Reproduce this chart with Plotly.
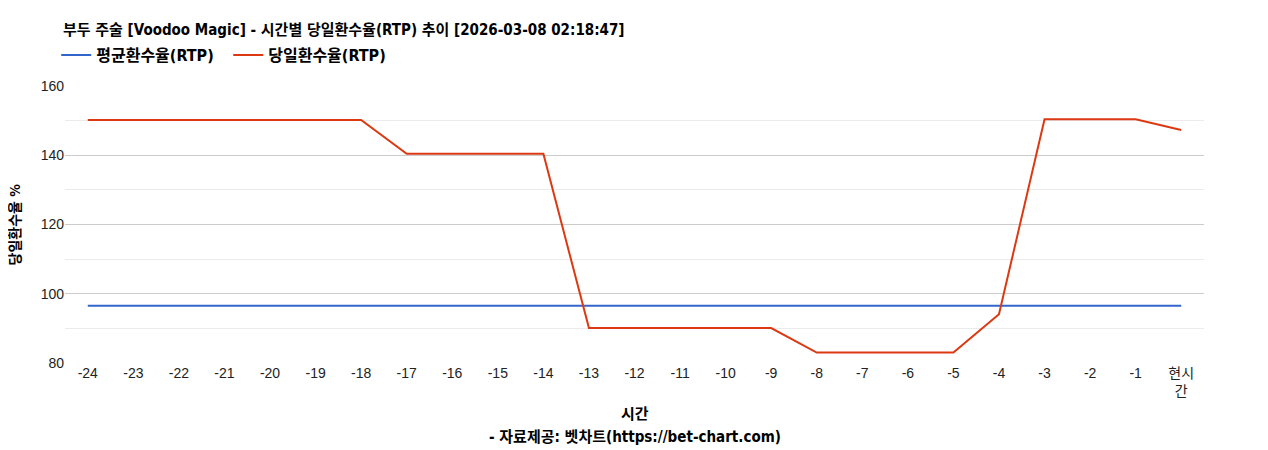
import plotly.graph_objects as go

hours = [str(h) for h in range(-24, 0)] + ["현시<br>간"]

avg_rtp = [96.5] * 25
day_rtp = [150.2, 150.2, 150.2, 150.2, 150.2, 150.2, 150.2,
           140.4, 140.4, 140.4, 140.4,
           90.1, 90.1, 90.1, 90.1, 90.1,
           83.0, 83.0, 83.0, 83.0,
           94.1,
           150.4, 150.4, 150.4,
           147.3]

tick_font = "Liberation Sans, Noto Sans CJK KR, Arial, sans-serif"
head_font = "DejaVu Sans Condensed, Noto Sans CJK KR, sans-serif"

# the page has an 8px body margin, so figure coords = screen coords - 8
W, H = 1252, 442
L, R, T, B = 57, 1196, 78, 355   # plot box in figure px

fig = go.Figure()
fig.add_trace(go.Scatter(x=hours, y=avg_rtp, mode="lines", name="<b>평균환수율(RTP)</b>",
                         line=dict(color="#3366cc", width=2)))
fig.add_trace(go.Scatter(x=hours, y=day_rtp, mode="lines", name="<b>당일환수율(RTP)</b>",
                         line=dict(color="#dc3912", width=2)))

fig.update_layout(
    width=W, height=H,
    margin=dict(l=L, r=W - R, t=T, b=H - B),
    paper_bgcolor="white", plot_bgcolor="white",
    font=dict(family=tick_font, size=14, color="#222222"),
    title=dict(text="<b>부두 주술 [Voodoo Magic] - 시간별 당일환수율(RTP) 추이 [2026-03-08 02:18:47]</b>",
               x=55 / W, xanchor="left", y=1 - 22 / H, yanchor="middle",
               font=dict(family=head_font, size=15, color="#000000")),
    showlegend=True,
    legend=dict(orientation="h", x=-0.0077, xanchor="left", y=(B - 47) / (B - T), yanchor="middle",
                font=dict(family=head_font, size=16, color="#000000"),
                itemwidth=30, entrywidth=127, entrywidthmode="pixels",
                traceorder="normal"),
    xaxis=dict(type="category", showgrid=False, showline=False, zeroline=False,
               ticks="", tickfont=dict(size=14, color="#222222"),
               range=[-0.5, 24.5]),
    yaxis=dict(range=[80, 160], dtick=20, tick0=80, showgrid=True, gridcolor="#cccccc",
               gridwidth=1, zeroline=False, showline=False, ticks="",
               tickfont=dict(size=14, color="#222222"),
               minor=dict(dtick=10, tick0=80, showgrid=True, gridcolor="#ebebeb", gridwidth=1)),
    annotations=[
        dict(text="<b>당일환수율 %</b>", xref="paper", yref="paper",
             x=(6 - L) / (R - L), y=0.5, textangle=-90, showarrow=False,
             xanchor="center", yanchor="middle",
             font=dict(family=head_font, size=14, color="#000000")),
        dict(text="<b>시간</b>", xref="paper", yref="paper",
             x=0.5, y=(B - 406) / (B - T), showarrow=False,
             xanchor="center", yanchor="middle",
             font=dict(family=head_font, size=15, color="#000000")),
        dict(text="<b>- 자료제공: 벳차트(https://bet-chart.com)</b>", xref="paper", yref="paper",
             x=0.5, y=(B - 429) / (B - T), showarrow=False,
             xanchor="center", yanchor="middle",
             font=dict(family=head_font, size=15, color="#000000")),
    ],
)

fig.write_html("out.html")
